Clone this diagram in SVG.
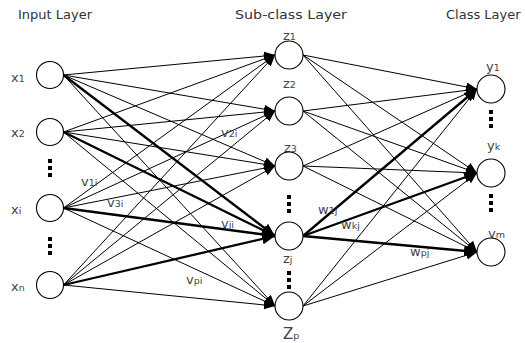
<svg xmlns="http://www.w3.org/2000/svg" width="525" height="343" viewBox="0 0 525 343">
<style>
.title{font-family:"DejaVu Sans",sans-serif;font-size:13px;fill:#333}
.lbl{font-family:"DejaVu Sans",sans-serif;font-size:13px;fill:#444}
.sub{font-size:9.5px}
.node{fill:#fff;stroke:#000;stroke-width:1.1}
.e{stroke:#000;stroke-width:1;fill:none;marker-end:url(#ah)}
.t{stroke:#000;stroke-width:2.3;fill:none;marker-end:url(#ahb)}
.dot{fill:#000}
</style>
<defs>
<marker id="ah" markerUnits="userSpaceOnUse" markerWidth="12" markerHeight="10" refX="11" refY="4.5" orient="auto"><path d="M0,0 L11,4.5 L0,9 z" fill="#000"/></marker>
<marker id="ahb" markerUnits="userSpaceOnUse" markerWidth="14" markerHeight="12" refX="13" refY="5.5" orient="auto"><path d="M0,0 L13,5.5 L0,11 z" fill="#000"/></marker>
</defs>
<rect width="525" height="343" fill="#fff"/>
<text class="title" x="18" y="19">Input Layer</text>
<text class="title" x="235" y="19" textLength="112" lengthAdjust="spacingAndGlyphs">Sub-class Layer</text>
<text class="title" x="446" y="19">Class Layer</text>
<g id="connectors">
<line class="e" x1="63.5" y1="75" x2="275" y2="55"/>
<line class="e" x1="63.5" y1="75" x2="275" y2="111"/>
<line class="e" x1="63.5" y1="75" x2="275" y2="166"/>
<line class="t" x1="63.5" y1="75" x2="275" y2="236"/>
<line class="e" x1="63.5" y1="75" x2="275" y2="306"/>
<line class="e" x1="63.5" y1="132" x2="275" y2="55"/>
<line class="e" x1="63.5" y1="132" x2="275" y2="111"/>
<line class="e" x1="63.5" y1="132" x2="275" y2="166"/>
<line class="t" x1="63.5" y1="132" x2="275" y2="236"/>
<line class="e" x1="63.5" y1="132" x2="275" y2="306"/>
<line class="e" x1="63.5" y1="208" x2="275" y2="55"/>
<line class="e" x1="63.5" y1="208" x2="275" y2="111"/>
<line class="e" x1="63.5" y1="208" x2="275" y2="166"/>
<line class="t" x1="63.5" y1="208" x2="275" y2="236"/>
<line class="e" x1="63.5" y1="208" x2="275" y2="306"/>
<line class="e" x1="63.5" y1="285" x2="275" y2="55"/>
<line class="e" x1="63.5" y1="285" x2="275" y2="111"/>
<line class="e" x1="63.5" y1="285" x2="275" y2="166"/>
<line class="t" x1="63.5" y1="285" x2="275" y2="236"/>
<line class="e" x1="63.5" y1="285" x2="275" y2="306"/>
<line class="e" x1="303" y1="55" x2="477" y2="89"/>
<line class="e" x1="303" y1="55" x2="477" y2="173"/>
<line class="e" x1="303" y1="55" x2="477" y2="252"/>
<line class="e" x1="303" y1="111" x2="477" y2="89"/>
<line class="e" x1="303" y1="111" x2="477" y2="173"/>
<line class="e" x1="303" y1="111" x2="477" y2="252"/>
<line class="e" x1="303" y1="166" x2="477" y2="89"/>
<line class="e" x1="303" y1="166" x2="477" y2="173"/>
<line class="e" x1="303" y1="166" x2="477" y2="252"/>
<line class="t" x1="303" y1="236" x2="477" y2="89"/>
<line class="t" x1="303" y1="236" x2="477" y2="173"/>
<line class="t" x1="303" y1="236" x2="477" y2="252"/>
<line class="e" x1="303" y1="306" x2="477" y2="89"/>
<line class="e" x1="303" y1="306" x2="477" y2="173"/>
<line class="e" x1="303" y1="306" x2="477" y2="252"/>
</g>
<g id="edge-labels">
<text class="lbl" x="81" y="186">v<tspan class="sub">1i</tspan></text>
<text class="lbl" x="221" y="137">v<tspan class="sub">2i</tspan></text>
<text class="lbl" x="107" y="207">v<tspan class="sub">3i</tspan></text>
<text class="lbl" x="221" y="228">v<tspan class="sub">ji</tspan></text>
<text class="lbl" x="186" y="284">v<tspan class="sub">pi</tspan></text>
<text class="lbl" x="318" y="214">w<tspan class="sub">1j</tspan></text>
<text class="lbl" x="341" y="229">w<tspan class="sub">kj</tspan></text>
<text class="lbl" x="410" y="256">w<tspan class="sub">pj</tspan></text>
</g>
<g id="x1"><text class="lbl" x="11" y="82">x<tspan class="sub">1</tspan></text><circle class="node" cx="50" cy="75" r="13.5"/></g>
<g id="x2"><text class="lbl" x="11" y="137">x<tspan class="sub">2</tspan></text><circle class="node" cx="50" cy="132" r="13.5"/></g>
<g id="xdots1"><rect class="dot" x="48" y="159" width="4" height="4"/><rect class="dot" x="48" y="166" width="4" height="4"/><rect class="dot" x="48" y="173" width="4" height="4"/></g>
<g id="xi"><text class="lbl" x="11" y="214">x<tspan class="sub">i</tspan></text><circle class="node" cx="50" cy="208" r="13.5"/></g>
<g id="xdots2"><rect class="dot" x="48" y="237" width="4" height="4"/><rect class="dot" x="48" y="244" width="4" height="4"/><rect class="dot" x="48" y="251" width="4" height="4"/></g>
<g id="xn"><text class="lbl" x="11" y="291">x<tspan class="sub">n</tspan></text><circle class="node" cx="50" cy="285" r="13.5"/></g>
<g id="z1"><text class="lbl" x="283" y="40">z<tspan class="sub">1</tspan></text><circle class="node" cx="289" cy="55" r="14"/></g>
<g id="z2"><text class="lbl" x="283" y="88">z<tspan class="sub">2</tspan></text><circle class="node" cx="289" cy="111" r="14"/></g>
<g id="z3"><text class="lbl" x="284" y="152">z<tspan class="sub">3</tspan></text><circle class="node" cx="289" cy="166" r="14"/></g>
<g id="zdots1"><rect class="dot" x="287" y="195" width="4" height="4"/><rect class="dot" x="287" y="202" width="4" height="4"/><rect class="dot" x="287" y="209" width="4" height="4"/></g>
<g id="zj"><text class="lbl" x="283" y="263">z<tspan class="sub">j</tspan></text><circle class="node" cx="289" cy="236" r="14"/></g>
<g id="zdots2"><rect class="dot" x="287" y="271" width="4" height="4"/><rect class="dot" x="287" y="278" width="4" height="4"/><rect class="dot" x="287" y="285" width="4" height="4"/></g>
<g id="zp"><text class="lbl" x="283" y="339" style="font-size:15px">Z<tspan class="sub">p</tspan></text><circle class="node" cx="289" cy="306" r="14"/></g>
<g id="y1"><text class="lbl" x="486" y="71">y<tspan class="sub">1</tspan></text><circle class="node" cx="491" cy="89" r="14"/></g>
<g id="ydots1"><rect class="dot" x="489" y="110" width="4" height="4"/><rect class="dot" x="489" y="117" width="4" height="4"/><rect class="dot" x="489" y="124" width="4" height="4"/></g>
<g id="yk"><text class="lbl" x="487" y="150">y<tspan class="sub">k</tspan></text><circle class="node" cx="491" cy="173" r="14"/></g>
<g id="ydots2"><rect class="dot" x="489" y="194" width="4" height="4"/><rect class="dot" x="489" y="201" width="4" height="4"/><rect class="dot" x="489" y="208" width="4" height="4"/></g>
<g id="ym"><text class="lbl" x="488" y="238">y<tspan class="sub">m</tspan></text><circle class="node" cx="491" cy="252" r="14"/></g>
</svg>
